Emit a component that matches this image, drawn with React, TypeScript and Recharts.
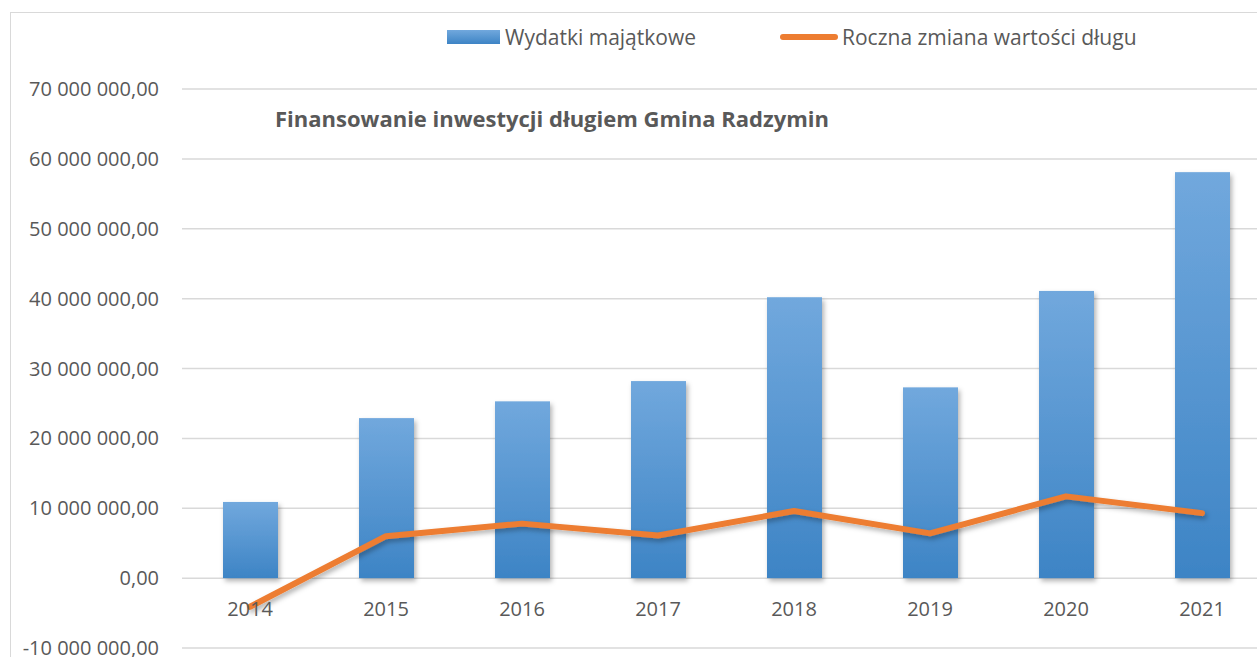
import { ComposedChart, Bar, Line, XAxis, YAxis, CartesianGrid } from 'recharts';

const years = ['2014', '2015', '2016', '2017', '2018', '2019', '2020', '2021'];
const capitalSpending = [10900000, 22900000, 25300000, 28200000, 40200000, 27300000, 41100000, 58100000];
const debtChange = [-4100000, 6000000, 7800000, 6100000, 9600000, 6400000, 11700000, 9300000];
const yTicks = [-10000000, 0, 10000000, 20000000, 30000000, 40000000, 50000000, 60000000, 70000000];

const BAR_TOP = '#71a8dd';
const BAR_BOTTOM = '#3d84c5';
const LINE_COLOR = '#ed7d31';
const TEXT_COLOR = '#595959';
const GRID_COLOR = '#d9d9d9';
const FONT = '"Open Sans", sans-serif';

const data = years.map((y, i) => ({
  year: y,
  spending: capitalSpending[i],
  change: debtChange[i],
}));

const formatPl = (v: number) => {
  const sign = v < 0 ? '-' : '';
  const s = Math.abs(Math.round(v)).toString().replace(/\B(?=(\d{3})+(?!\d))/g, ' ');
  return `${sign}${s},00`;
};

const YearTick = (props: any) => {
  const { x, y, payload } = props;
  return (
    <text x={x} y={y - 45} textAnchor="middle" dominantBaseline="middle"
      fill={TEXT_COLOR} fontSize={20} fontFamily={FONT}>
      {payload.value}
    </text>
  );
};

const ShadowBar = (props: any) => {
  const { x, y, width, height } = props;
  if (!height) return null;
  return <rect x={x} y={y} width={width} height={height} fill="url(#barGrad)" filter="url(#dropShadow)" />;
};

const legendItem = { position: 'absolute' as const, top: 23, display: 'flex', alignItems: 'center', fontSize: 21, color: TEXT_COLOR, whiteSpace: 'nowrap' as const };

export default function App() {
  return (
    <div style={{ position: 'fixed', left: 0, top: 0, width: 1257, height: 657, overflow: 'hidden', background: '#fff', fontFamily: FONT }}>
      <div style={{ position: 'absolute', left: 10, top: 12, width: 1400, height: 800, border: `1.5px solid ${GRID_COLOR}` }} />

      <div style={{ ...legendItem, left: 447 }}>
        <span style={{ display: 'inline-block', width: 53, height: 14, background: `linear-gradient(${BAR_TOP}, ${BAR_BOTTOM})`, marginRight: 5 }} />
        <span>Wydatki majątkowe</span>
      </div>
      <div style={{ ...legendItem, left: 780 }}>
        <span style={{ display: 'inline-block', width: 58, height: 6, borderRadius: 3, background: LINE_COLOR, marginRight: 4 }} />
        <span>Roczna zmiana wartości długu</span>
      </div>

      <div style={{ position: 'absolute', left: 275, top: 103, fontSize: 22, fontWeight: 700, color: TEXT_COLOR, whiteSpace: 'nowrap' }}>
        Finansowanie inwestycji długiem Gmina Radzymin
      </div>

      <div style={{ position: 'absolute', left: 0, top: 0 }}>
        <ComposedChart width={1270} height={678} data={data} margin={{ top: 89, right: 0, bottom: 0, left: 0 }}>
          <defs>
            <linearGradient id="barGrad" x1="0" y1="0" x2="0" y2="1">
              <stop offset="0%" stopColor={BAR_TOP} />
              <stop offset="100%" stopColor={BAR_BOTTOM} />
            </linearGradient>
            <filter id="dropShadow" x="-20%" y="-20%" width="150%" height="150%">
              <feDropShadow dx="2" dy="3" stdDeviation="2.5" floodColor="#000" floodOpacity="0.3" />
            </filter>
          </defs>
          <CartesianGrid vertical={false} stroke={GRID_COLOR} strokeWidth={1.5} />
          <XAxis dataKey="year" height={30} axisLine={false} tickLine={false} tick={<YearTick />} interval={0} />
          <YAxis width={182} domain={[-10000000, 70000000]} ticks={yTicks} tickFormatter={formatPl}
            axisLine={false} tickLine={false} tickMargin={17}
            tick={{ fill: TEXT_COLOR, fontSize: 20, fontFamily: FONT }} />
          <Bar dataKey="spending" barSize={55} shape={<ShadowBar />} isAnimationActive={false} />
          <Line dataKey="change" type="linear" stroke={LINE_COLOR} strokeWidth={6} strokeLinecap="round"
            strokeLinejoin="round" dot={false} activeDot={false} filter="url(#dropShadow)" isAnimationActive={false} />
        </ComposedChart>
      </div>
    </div>
  );
}
